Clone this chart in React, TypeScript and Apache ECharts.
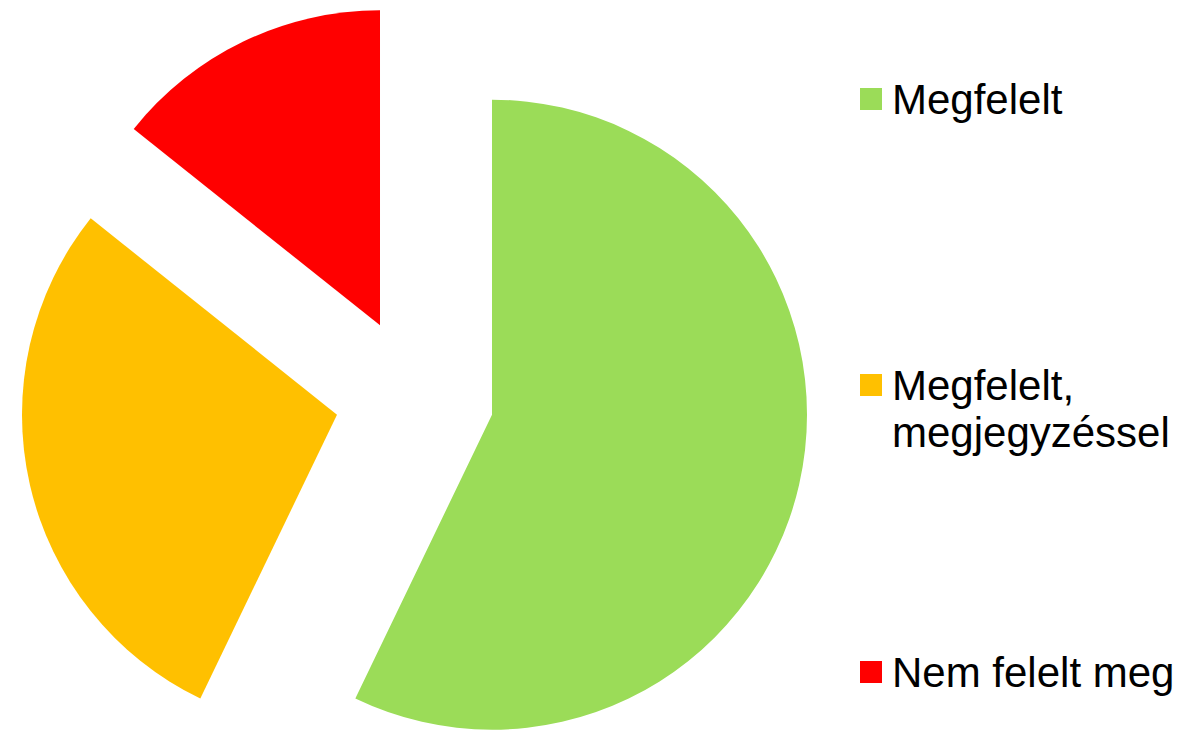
import React, { useEffect, useRef } from "react";
import * as echarts from "echarts";

const categories = ["Megfelelt", "Megfelelt, megjegyzéssel", "Nem felelt meg"];
const legendLines = [["Megfelelt"], ["Megfelelt,", "megjegyzéssel"], ["Nem felelt meg"]];
const values = [4, 2, 1];
const colors = ["#9BDC58", "#FFC000", "#FF0000"];

export default function App() {
  const ref = useRef<HTMLDivElement>(null);
  useEffect(() => {
    if (!ref.current) return;
    const chart = echarts.init(ref.current, null, { renderer: "svg" });
    const font = "'Liberation Sans', Arial, sans-serif";
    const iconCenters = [99, 385, 672];
    chart.setOption({
      animation: false,
      backgroundColor: "#ffffff",
      legend: categories.map((c, i) => {
        const lines = legendLines[i].map((l) => `{a|${l}}`);
        // pad multi-line text so the first line sits level with the icon
        const padded = lines.length > 1 ? ["{a| }", ...lines] : lines;
        const h = padded.length * 47;
        return {
          data: [c],
          orient: "vertical",
          left: 860,
          top: iconCenters[i] - h / 2,
          padding: 0,
          icon: "rect",
          itemWidth: 22,
          itemHeight: 22,
          selectedMode: false,
          formatter: () => padded.join("\n"),
          textStyle: {
            fontFamily: font,
            fontSize: 42,
            lineHeight: 47,
            color: "#000000",
            rich: {
              a: {
                fontFamily: font,
                fontSize: 42,
                lineHeight: 47,
                color: "#000000",
                padding: [0, 0, 0, 5],
              },
            },
          },
        };
      }),
      series: [
        {
          type: "pie",
          center: [414.5, 397],
          radius: 315,
          startAngle: 90,
          clockwise: true,
          selectedMode: "multiple",
          selectedOffset: 79.5,
          label: { show: false },
          labelLine: { show: false },
          emphasis: { disabled: true },
          select: { itemStyle: { borderWidth: 0 } },
          itemStyle: { borderWidth: 0 },
          data: categories.map((c, i) => ({
            name: c,
            value: values[i],
            selected: true,
            itemStyle: { color: colors[i] },
            select: { itemStyle: { color: colors[i] } },
          })),
        },
      ],
    });
    return () => chart.dispose();
  }, []);
  return (
    <div
      ref={ref}
      style={{ position: "absolute", left: 0, top: 0, width: 1184, height: 731 }}
    />
  );
}
